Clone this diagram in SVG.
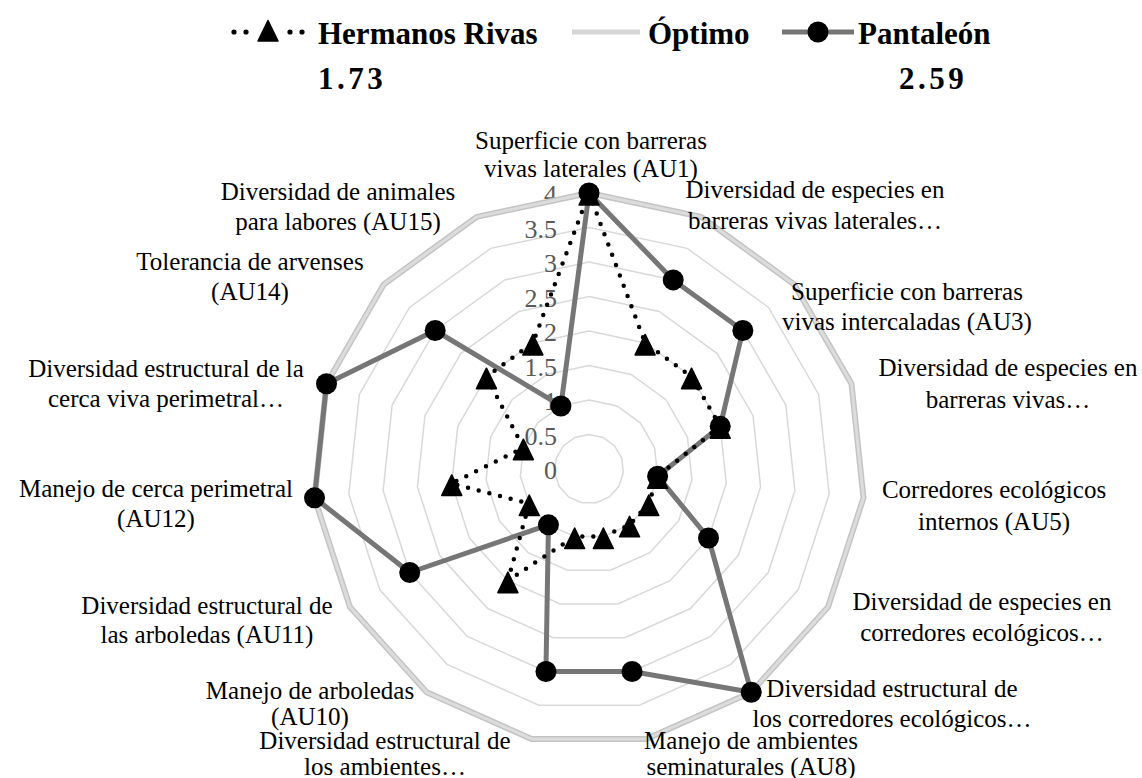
<svg xmlns="http://www.w3.org/2000/svg" width="1142" height="778" viewBox="0 0 1142 778">
  <style>
    .grid { fill: none; stroke: #d9d9d9; stroke-width: 1.5; }
    .opt-base { fill: none; stroke: #c4c4c4; stroke-width: 6; stroke-linejoin: round; }
    .opt-top { fill: none; stroke: #dcdcdc; stroke-width: 3; stroke-linejoin: round; }
    .pan { fill: none; stroke: #767676; stroke-width: 5; stroke-linejoin: round; }
    .hr { fill: none; stroke: #000; stroke-width: 4.5; stroke-linecap: round; stroke-dasharray: 0 11; }
    .cat { font-family: "Liberation Serif", "Times New Roman", serif; font-size: 25px; fill: #000; text-anchor: middle; }
    .val { font-family: "Liberation Serif", "Times New Roman", serif; font-size: 26px; fill: #595959; text-anchor: end; }
    .leg { font-family: "Liberation Serif", "Times New Roman", serif; font-size: 31px; font-weight: bold; fill: #000; }
    .score { font-family: "Liberation Serif", "Times New Roman", serif; font-size: 31px; font-weight: bold; fill: #000; text-anchor: middle; letter-spacing: 3.5px; }
  </style>
  <defs>
    <circle id="dot" r="10.5" fill="#000"/>
    <circle id="pip" r="2.6" fill="#000"/>
    <polygon id="tri" points="0,-8.5 10,12 -10,12" fill="#000" stroke="#000" stroke-width="1.5" stroke-linejoin="round"/>
  </defs>

  <rect width="1142" height="778" fill="#fff"/>

  <!-- legend -->
  <g id="legend">
    <g id="legend-hermanos">
      <use href="#pip" x="234" y="32"/>
      <use href="#pip" x="246" y="32"/>
      <use href="#tri" x="268" y="29"/>
      <use href="#pip" x="290" y="32"/>
      <use href="#pip" x="302" y="32"/>
      <text class="leg" x="318" y="44">Hermanos Rivas</text>
    </g>
    <g id="legend-optimo">
      <line x1="572" y1="32" x2="640" y2="32" stroke="#d6d6d6" stroke-width="5"/>
      <text class="leg" x="648" y="44">Óptimo</text>
    </g>
    <g id="legend-pantaleon">
      <line x1="782" y1="32" x2="854" y2="32" stroke="#767676" stroke-width="5"/>
      <use href="#dot" x="818" y="32"/>
      <text class="leg" x="858" y="44">Pantaleón</text>
    </g>
  </g>

  <text id="score-hermanos" class="score" x="352" y="89">1.73</text>
  <text id="score-pantaleon" class="score" x="933" y="89">2.59</text>

  <g id="chart" transform="translate(589,469)">
    <!-- rings every 0.5 -->
    <g id="rings">
      <polygon class="grid" points="0,-34.5 14.04,-31.52 25.64,-23.09 32.81,-10.66 34.31,3.61 29.88,17.25 20.28,27.91 7.18,33.75 -7.18,33.75 -20.28,27.91 -29.88,17.25 -34.31,3.61 -32.81,-10.66 -25.64,-23.09 -14.04,-31.52"/>
      <polygon class="grid" points="0,-69 28.07,-63.03 51.28,-46.17 65.62,-21.32 68.62,7.21 59.76,34.5 40.56,55.82 14.35,67.49 -14.35,67.49 -40.56,55.82 -59.76,34.5 -68.62,7.21 -65.62,-21.32 -51.28,-46.17 -28.07,-63.03"/>
      <polygon class="grid" points="0,-103.5 42.1,-94.55 76.92,-69.26 98.43,-31.98 102.93,10.82 89.64,51.75 60.84,83.73 21.53,101.24 -21.53,101.24 -60.84,83.73 -89.64,51.75 -102.93,10.82 -98.43,-31.98 -76.92,-69.26 -42.1,-94.55"/>
      <polygon class="grid" points="0,-138 56.14,-126.06 102.56,-92.34 131.24,-42.64 137.24,14.42 119.52,69 81.12,111.64 28.7,134.98 -28.7,134.98 -81.12,111.64 -119.52,69 -137.24,14.42 -131.24,-42.64 -102.56,-92.34 -56.14,-126.06"/>
      <polygon class="grid" points="0,-172.5 70.18,-157.58 128.2,-115.43 164.05,-53.3 171.55,18.03 149.4,86.25 101.4,139.55 35.88,168.73 -35.88,168.73 -101.4,139.55 -149.4,86.25 -171.55,18.03 -164.05,-53.3 -128.2,-115.43 -70.18,-157.58"/>
      <polygon class="grid" points="0,-207 84.21,-189.09 153.84,-138.51 196.86,-63.96 205.86,21.63 179.28,103.5 121.68,167.46 43.05,202.47 -43.05,202.47 -121.68,167.46 -179.28,103.5 -205.86,21.63 -196.86,-63.96 -153.84,-138.51 -84.21,-189.09"/>
      <polygon class="grid" points="0,-241.5 98.25,-220.61 179.48,-161.6 229.67,-74.62 240.17,25.24 209.16,120.75 141.96,195.37 50.23,236.22 -50.23,236.22 -141.96,195.37 -209.16,120.75 -240.17,25.24 -229.67,-74.62 -179.48,-161.6 -98.25,-220.61"/>
    </g>

    <!-- value axis labels -->
    <g id="value-axis">
      <text class="val" x="-32" y="10">0</text>
      <text class="val" x="-32" y="-24.5">0.5</text>
      <text class="val" x="-32" y="-59">1</text>
      <text class="val" x="-32" y="-93.5">1.5</text>
      <text class="val" x="-32" y="-128">2</text>
      <text class="val" x="-32" y="-162.5">2.5</text>
      <text class="val" x="-32" y="-197">3</text>
      <text class="val" x="-32" y="-231.5">3.5</text>
      <text class="val" x="-32" y="-266">4</text>
    </g>

    <!-- series lines -->
    <g id="connectors">
      <polygon id="line-optimo-base" class="opt-base" points="0,-276 112.28,-252.12 205.12,-184.68 262.48,-85.28 274.48,28.84 239.04,138 162.24,223.28 57.4,269.96 -57.4,269.96 -162.24,223.28 -239.04,138 -274.48,28.84 -262.48,-85.28 -205.12,-184.68 -112.28,-252.12"/>
      <polygon id="line-optimo" class="opt-top" points="0,-276 112.28,-252.12 205.12,-184.68 262.48,-85.28 274.48,28.84 239.04,138 162.24,223.28 57.4,269.96 -57.4,269.96 -162.24,223.28 -239.04,138 -274.48,28.84 -262.48,-85.28 -205.12,-184.68 -112.28,-252.12"/>
      <polygon id="line-pantaleon" class="pan" points="0,-276 84.21,-189.09 153.84,-138.51 131.24,-42.64 68.62,7.21 119.52,69 162.24,223.28 43.05,202.47 -43.05,202.47 -40.56,55.82 -179.28,103.5 -274.48,28.84 -262.48,-85.28 -153.84,-138.51 -28.07,-63.03"/>
      <polygon id="line-hermanos" class="hr" points="0,-276 56.14,-126.06 102.56,-92.34 131.24,-42.64 68.62,7.21 59.76,34.5 40.56,55.82 14.35,67.49 -14.35,67.49 -81.12,111.64 -59.76,34.5 -137.24,14.42 -65.62,-21.32 -102.56,-92.34 -56.14,-126.06"/>
    </g>

    <!-- Pantaleón markers -->
    <g id="markers-pantaleon">
      <use href="#dot" x="0" y="-276"/>
      <use href="#dot" x="84.21" y="-189.09"/>
      <use href="#dot" x="153.84" y="-138.51"/>
      <use href="#dot" x="131.24" y="-42.64"/>
      <use href="#dot" x="68.62" y="7.21"/>
      <use href="#dot" x="119.52" y="69"/>
      <use href="#dot" x="162.24" y="223.28"/>
      <use href="#dot" x="43.05" y="202.47"/>
      <use href="#dot" x="-43.05" y="202.47"/>
      <use href="#dot" x="-40.56" y="55.82"/>
      <use href="#dot" x="-179.28" y="103.5"/>
      <use href="#dot" x="-274.48" y="28.84"/>
      <use href="#dot" x="-262.48" y="-85.28"/>
      <use href="#dot" x="-153.84" y="-138.51"/>
      <use href="#dot" x="-28.07" y="-63.03"/>
    </g>

    <!-- Hermanos Rivas markers -->
    <g id="markers-hermanos">
      <use href="#tri" x="0" y="-276"/>
      <use href="#tri" x="56.14" y="-126.06"/>
      <use href="#tri" x="102.56" y="-92.34"/>
      <use href="#tri" x="131.24" y="-42.64"/>
      <use href="#tri" x="68.62" y="7.21"/>
      <use href="#tri" x="59.76" y="34.5"/>
      <use href="#tri" x="40.56" y="55.82"/>
      <use href="#tri" x="14.35" y="67.49"/>
      <use href="#tri" x="-14.35" y="67.49"/>
      <use href="#tri" x="-81.12" y="111.64"/>
      <use href="#tri" x="-59.76" y="34.5"/>
      <use href="#tri" x="-137.24" y="14.42"/>
      <use href="#tri" x="-65.62" y="-21.32"/>
      <use href="#tri" x="-102.56" y="-92.34"/>
      <use href="#tri" x="-56.14" y="-126.06"/>
    </g>
  </g>

  <!-- category labels -->
  <g id="labels">
    <g id="au1"><text class="cat" x="591" y="149">Superficie con barreras</text><text class="cat" x="591" y="177">vivas laterales (AU1)</text></g>
    <g id="au2"><text class="cat" x="815" y="198">Diversidad de especies en</text><text class="cat" x="815" y="229">barreras vivas laterales…</text></g>
    <g id="au3"><text class="cat" x="907" y="300">Superficie con barreras</text><text class="cat" x="907" y="330">vivas intercaladas (AU3)</text></g>
    <g id="au4"><text class="cat" x="1008" y="376">Diversidad de especies en</text><text class="cat" x="1008" y="408">barreras vivas…</text></g>
    <g id="au5"><text class="cat" x="994" y="498">Corredores ecológicos</text><text class="cat" x="994" y="530">internos (AU5)</text></g>
    <g id="au6"><text class="cat" x="982" y="610">Diversidad de especies en</text><text class="cat" x="982" y="641">corredores ecológicos…</text></g>
    <g id="au7"><text class="cat" x="892" y="697">Diversidad estructural de</text><text class="cat" x="892" y="727">los corredores ecológicos…</text></g>
    <g id="au8"><text class="cat" x="751" y="749">Manejo de ambientes</text><text class="cat" x="751" y="775">seminaturales (AU8)</text></g>
    <g id="au9"><text class="cat" x="385" y="749">Diversidad estructural de</text><text class="cat" x="385" y="775">los ambientes…</text></g>
    <g id="au10"><text class="cat" x="310" y="699">Manejo de arboledas</text><text class="cat" x="310" y="725">(AU10)</text></g>
    <g id="au11"><text class="cat" x="207" y="614">Diversidad estructural de</text><text class="cat" x="207" y="643">las arboledas (AU11)</text></g>
    <g id="au12"><text class="cat" x="156" y="497">Manejo de cerca perimetral</text><text class="cat" x="156" y="527">(AU12)</text></g>
    <g id="au13"><text class="cat" x="166" y="377">Diversidad estructural de la</text><text class="cat" x="166" y="407">cerca viva perimetral…</text></g>
    <g id="au14"><text class="cat" x="250" y="270">Tolerancia de arvenses</text><text class="cat" x="250" y="300">(AU14)</text></g>
    <g id="au15"><text class="cat" x="338" y="200">Diversidad de animales</text><text class="cat" x="338" y="230">para labores (AU15)</text></g>
  </g>
</svg>
